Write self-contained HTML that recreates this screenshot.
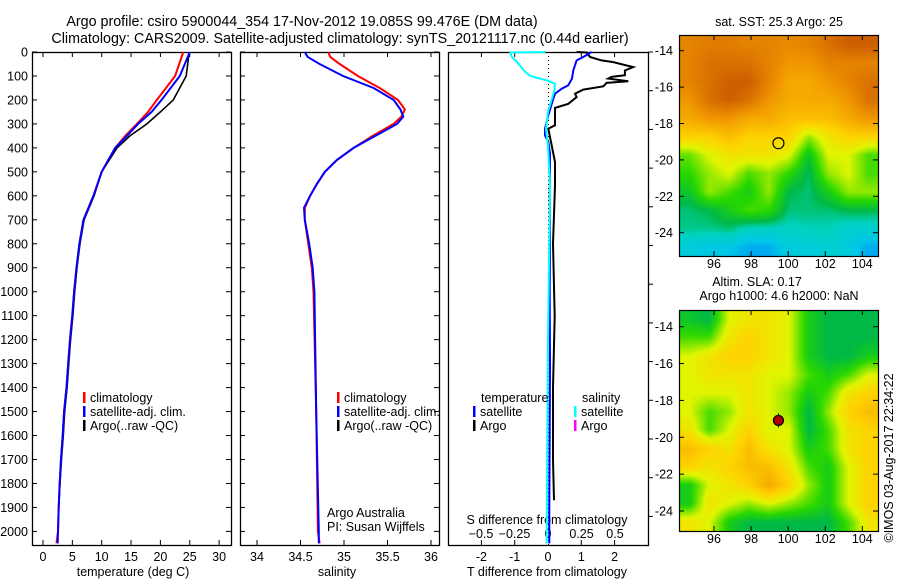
<!DOCTYPE html>
<html><head><meta charset="utf-8"><style>
html,body{margin:0;padding:0;background:#fff;}
#wrap{position:relative;width:900px;height:580px;overflow:hidden;font-family:"Liberation Sans",sans-serif;}
canvas{position:absolute;}
svg{position:absolute;left:0;top:0;}
text{font-family:"Liberation Sans",sans-serif;font-size:12.5px;fill:#000;}
</style></head><body>
<div id="wrap">
<canvas id="map1" width="199" height="221" style="left:679px;top:35px"></canvas>
<canvas id="map2" width="199" height="221" style="left:679px;top:310px"></canvas>
<svg id="svg" width="900" height="580"></svg>
</div>
<script>
// ---- data ----
const depthT = [0,100,200,250,300,350,400,500,600,700,800,900,1000,1100,1200,1300,1400,1500,1600,1700,1800,1900,2000,2050];
const tempClim = [23.9,22.5,19.4,17.9,16.0,14.0,12.3,10.0,8.6,6.9,6.2,5.7,5.3,5.0,4.6,4.3,4.0,3.6,3.35,3.07,2.84,2.67,2.55,2.3];
const tempSat = [25.0,23.3,20.2,18.5,16.2,14.3,12.3,10.0,8.6,6.9,6.2,5.7,5.3,5.0,4.6,4.3,4.0,3.6,3.35,3.07,2.84,2.67,2.55,2.5];
const depthArgo = [0,100,200,250,300,350,400,500,600,700,800,900,1000,1100,1200,1300,1400,1500,1600,1700,1800,1870];
const tempArgo = [24.9,24.4,22.2,20.0,17.7,14.8,12.6,10.0,8.7,7.0,6.3,5.8,5.4,5.1,4.7,4.4,4.1,3.7,3.45,3.15,2.9,2.75];
const depthS = [0,20,50,100,150,200,240,270,300,350,400,450,500,550,600,650,700,800,900,1000,1500,2000,2050];
const salClim = [34.82,34.84,34.95,35.16,35.41,35.62,35.70,35.66,35.57,35.33,35.11,34.92,34.78,34.69,34.61,34.55,34.55,34.59,34.63,34.65,34.68,34.70,34.72];
const salSat = [34.55,34.58,34.72,34.99,35.34,35.57,35.65,35.68,35.61,35.36,35.11,34.92,34.78,34.69,34.61,34.54,34.55,34.60,34.64,34.66,34.68,34.71,34.71];
const depthD = [0,21,35,77,111,139,153,174,216,264,320,348,375,424,600,800,1000,1300,1600,1900,2050];
const tDiffSat = [1.31,1.06,0.86,0.76,0.72,0.61,0.41,0.21,0.11,0.01,-0.09,-0.09,0.01,0.06,0.05,0.06,0.05,0.06,0.05,0.04,0.04];
const depthDA = [0,2,21,35,42,63,77,97,104,111,122,129,143,157,174,188,216,233,258,306,320,390,459,556,800,1100,1400,1700,1870];
const tDiffArgo = [0.86,1.16,1.26,1.61,1.96,2.56,2.31,2.31,1.91,1.81,2.41,1.76,1.66,1.06,0.81,0.86,0.61,0.21,0.21,0.21,0.01,0.11,0.21,0.21,0.15,0.2,0.15,0.15,0.18];
const depthDS = [0,2,21,42,77,97,104,118,132,153,174,250,320,390,560,800,1200,1600,2050];
const sDiffSat = [-0.02,-0.28,-0.27,-0.23,-0.18,-0.14,-0.11,-0.01,0.05,0.05,0.04,0.0,-0.015,0.0,0.015,0.01,0.0,-0.005,-0.01];
const depthTicks = [0,100,200,300,400,500,600,700,800,900,1000,1100,1200,1300,1400,1500,1600,1700,1800,1900,2000];
const tempTicks = [0,5,10,15,20,25,30];
const salTicks = [34,34.5,35,35.5,36];
const tdTicks = [-2,-1,0,1,2];
const sdTicks = [-0.5,-0.25,0,0.25,0.5];
const lonTicks = [96,98,100,102,104];
const latTicks = [-14,-16,-18,-20,-22,-24];
const argoLon = 99.476, argoLat = -19.085;
const sstGrid = [
[0.8,0.82,0.82,0.8,0.8,0.78,0.8,0.85,0.9,0.9],
[0.8,0.85,0.85,0.85,0.8,0.75,0.75,0.8,0.8,0.8],
[0.8,0.85,0.9,0.9,0.8,0.7,0.7,0.75,0.8,0.85],
[0.75,0.85,0.9,0.85,0.75,0.7,0.7,0.7,0.75,0.85],
[0.7,0.75,0.75,0.7,0.7,0.65,0.65,0.65,0.7,0.75],
[0.6,0.6,0.65,0.6,0.6,0.6,0.45,0.55,0.6,0.6],
[0.42,0.5,0.55,0.55,0.55,0.5,0.33,0.5,0.5,0.4],
[0.38,0.45,0.5,0.4,0.45,0.38,0.29,0.45,0.5,0.4],
[0.33,0.45,0.4,0.35,0.45,0.3,0.28,0.35,0.45,0.45],
[0.28,0.3,0.35,0.4,0.38,0.28,0.28,0.28,0.3,0.3],
[0.27,0.27,0.28,0.24,0.24,0.24,0.25,0.25,0.22,0.22],
[0.2,0.18,0.18,0.15,0.15,0.2,0.2,0.22,0.2,0.15]];
const slaGrid = [
[0.33,0.3,0.5,0.55,0.55,0.5,0.35,0.3,0.3,0.3],
[0.4,0.4,0.55,0.6,0.55,0.5,0.35,0.3,0.3,0.3],
[0.5,0.55,0.6,0.6,0.55,0.5,0.35,0.3,0.3,0.35],
[0.5,0.55,0.55,0.55,0.5,0.5,0.4,0.35,0.4,0.5],
[0.5,0.5,0.5,0.55,0.5,0.45,0.35,0.4,0.55,0.6],
[0.5,0.4,0.45,0.55,0.5,0.45,0.3,0.45,0.6,0.65],
[0.55,0.4,0.5,0.6,0.5,0.5,0.3,0.4,0.55,0.6],
[0.65,0.6,0.55,0.65,0.55,0.5,0.35,0.4,0.55,0.6],
[0.6,0.55,0.6,0.65,0.65,0.55,0.4,0.35,0.5,0.6],
[0.35,0.5,0.55,0.6,0.7,0.6,0.45,0.35,0.5,0.6],
[0.35,0.55,0.5,0.45,0.5,0.45,0.4,0.35,0.5,0.6],
[0.55,0.5,0.35,0.3,0.3,0.3,0.3,0.3,0.4,0.55]];

// ---- scales ----
const PT=52, PB=545;
const yD = d => PT + d*0.2397;
const xT = t => 43 + t*5.87;
const xS = s => 257 + (s-34)*87;
const xTD = t => 548 + t*33.3;
const xSD = s => 548 + s*134;
const mx = lon => 714 + (lon-96)*18.54;
const my1 = lat => 50.7 + (-14-lat)*18.2;
const my2 = lat => 326.7 + (-14-lat)*18.43;

const svg = document.getElementById('svg');
const NS='http://www.w3.org/2000/svg';
function el(tag, attrs, parent){const e=document.createElementNS(NS,tag);for(const k in attrs)e.setAttribute(k,attrs[k]);(parent||svg).appendChild(e);return e;}
function txt(x,y,s,anchor,parent){const t=el('text',{x:x,y:y,'text-anchor':anchor||'start'},parent);t.textContent=s;return t;}
function line(xs,ys,color,w,name){
  const pts=xs.map((x,i)=>x.toFixed(1)+','+ys[i].toFixed(1)).join(' ');
  const p=el('polyline',{points:pts,fill:'none',stroke:color,'stroke-width':w,'stroke-linejoin':'miter'});
  
  
  return p;
}

// titles
const t1=txt(302,26,'Argo profile: csiro 5900044_354 17-Nov-2012 19.085S 99.476E (DM data)','middle');
t1.setAttribute('style','font-size:14.3px');


const t2=txt(340,43,'Climatology: CARS2009. Satellite-adjusted climatology: synTS_20121117.nc (0.44d earlier)','middle');
t2.setAttribute('style','font-size:14.3px');



// panel frames
const panels=[[32,231,'temperature-panel'],[240,439,'salinity-panel'],[448,648,'difference-panel']];
panels.forEach(p=>{
  const r=el('rect',{x:p[0]+0.5,y:PT+0.5,width:p[1]-p[0],height:PB-PT,fill:'none',stroke:'#000','stroke-width':1.3});
  
  
});
// depth ticks
depthTicks.forEach(d=>{
  const y=yD(d);
  txt(28,y+4.5,String(d),'end');
  [[32,37],[226,231],[240,245],[434,439]].forEach(s=>el('line',{x1:s[0],x2:s[1],y1:y,y2:y,stroke:'#000'}));
});
// right ticks on difference panel
for(let y=52;y<545;y+=38.7) el('line',{x1:648,x2:653,y1:y,y2:y,stroke:'#000'});
// temp ticks
tempTicks.forEach(t=>{const x=xT(t);txt(x,561,String(t),'middle');el('line',{x1:x,x2:x,y1:PB,y2:PB-5,stroke:'#000'});el('line',{x1:x,x2:x,y1:PT,y2:PT+5,stroke:'#000'});});
salTicks.forEach(s=>{const x=xS(s);txt(x,561,String(s),'middle');el('line',{x1:x,x2:x,y1:PB,y2:PB-5,stroke:'#000'});el('line',{x1:x,x2:x,y1:PT,y2:PT+5,stroke:'#000'});});
tdTicks.forEach(t=>{const x=xTD(t);txt(x,561,String(t),'middle');if(t!==0){el('line',{x1:x,x2:x,y1:PB,y2:PB-5,stroke:'#000'});el('line',{x1:x,x2:x,y1:PT,y2:PT+5,stroke:'#000'});}});
sdTicks.forEach(s=>{txt(xSD(s),538,String(s).replace('-','\u2212'),'middle');});
txt(133,576,'temperature (deg C)','middle');
txt(337,576,'salinity','middle');
txt(547,576,'T difference from climatology','middle');
txt(547,524,'S difference from climatology','middle');
// zero dotted line
el('line',{x1:548.5,x2:548.5,y1:PT,y2:PB,stroke:'#000','stroke-dasharray':'1,3'});

// profiles
line(tempArgo.map(xT),depthArgo.map(yD),'#000',1.6,'argo-temperature-line');
line(tempClim.map(xT),depthT.map(yD),'#f00',2,'climatology-temperature-line');
line(tempSat.map(xT),depthT.map(yD),'#00f',2,'satellite-temperature-line');
line(salClim.map(xS),depthS.map(yD),'#f00',2,'climatology-salinity-line');
line(salSat.map(xS),depthS.map(yD),'#00f',2,'satellite-salinity-line');
line(tDiffArgo.map(xTD),depthDA.map(yD),'#000',2,'argo-t-diff-line');
line(tDiffSat.map(xTD),depthD.map(yD),'#00f',2,'satellite-t-diff-line');
line(sDiffSat.map(xSD),depthDS.map(yD),'#0ff',2,'satellite-s-diff-line');

// legends
function legend(x,y,color,label,name){
  const g=el('g',{});
  
  
  el('rect',{x:x,y:y-10,width:2.5,height:11,fill:color},g);
  txt(x+7,y,label,'start',g);
}
[[83,'temperature'],[337,'salinity']].forEach(l=>{
  legend(l[0],402,'#f00','climatology','legend-climatology-'+l[1]);
  legend(l[0],416,'#00f','satellite-adj. clim.','legend-satellite-'+l[1]);
  legend(l[0],430,'#000','Argo(..raw -QC)','legend-argo-'+l[1]);
});
txt(481,402,'temperature');
txt(582,402,'salinity');
legend(473,416,'#00f','satellite','legend-t-satellite');
legend(473,430,'#000','Argo','legend-t-argo');
legend(574,416,'#0ff','satellite','legend-s-satellite');
legend(574,430,'#f0f','Argo','legend-s-argo');
txt(327,517,'Argo Australia');
txt(327,531,'PI: Susan Wijffels');

// maps
function cmap(v){
  const stops=[[0.1,[0,120,255]],[0.18,[0,200,230]],[0.25,[0,210,190]],[0.3,[0,185,70]],[0.38,[40,215,0]],[0.5,[225,245,0]],[0.6,[255,210,0]],[0.75,[240,150,0]],[0.9,[205,95,0]]];
  if(v<=stops[0][0])return stops[0][1];
  for(let i=1;i<stops.length;i++){if(v<=stops[i][0]){const a=stops[i-1],b=stops[i],f=(v-a[0])/(b[0]-a[0]);return a[1].map((c,j)=>Math.round(c+(b[1][j]-c)*f));}}
  return stops[stops.length-1][1];
}
function drawMap(id,grid){
  const c=document.getElementById(id),ctx=c.getContext('2d');
  const rows=grid.length,cols=grid[0].length;
  const W=c.width,H=c.height,img=ctx.createImageData(W,H);
  for(let y=0;y<H;y++)for(let x=0;x<W;x++){
    const gx=Math.min(Math.max(x/W*cols-0.5,0),cols-1.001),gy=Math.min(Math.max(y/H*rows-0.5,0),rows-1.001);
    const i=Math.floor(gx),j=Math.floor(gy),fx=gx-i,fy=gy-j;
    const v=grid[j][i]*(1-fx)*(1-fy)+grid[j][i+1]*fx*(1-fy)+grid[j+1][i]*(1-fx)*fy+grid[j+1][i+1]*fx*fy;
    const col=cmap(v),k=(y*W+x)*4;img.data[k]=col[0];img.data[k+1]=col[1];img.data[k+2]=col[2];img.data[k+3]=255;
  }
  ctx.putImageData(img,0,0);
}
drawMap('map1',sstGrid);drawMap('map2',slaGrid);
[[35,my1,268,'sst-map-frame'],[310,my2,543,'sla-map-frame']].forEach(m=>{
  const r=el('rect',{x:679.5,y:m[0]+0.5,width:199,height:221,fill:'none',stroke:'#000','stroke-width':1.2});
  
  
  latTicks.forEach(l=>{const y=m[1](l);txt(673,y+4.5,String(l),'end');el('line',{x1:679,x2:684,y1:y,y2:y,stroke:'#000'});el('line',{x1:873,x2:878,y1:y,y2:y,stroke:'#000'});});
  lonTicks.forEach(l=>{const x=mx(l);txt(x,m[2],String(l),'middle');el('line',{x1:x,x2:x,y1:m[0]+221,y2:m[0]+216,stroke:'#000'});el('line',{x1:x,x2:x,y1:m[0],y2:m[0]+5,stroke:'#000'});});
});
const c1=el('circle',{cx:mx(argoLon),cy:my1(argoLat),r:5.5,fill:'none',stroke:'#000','stroke-width':1.2});


el('line',{x1:mx(argoLon),x2:mx(argoLon),y1:my2(argoLat)-7,y2:my2(argoLat)+7,stroke:'#000'});
const c2=el('circle',{cx:mx(argoLon),cy:my2(argoLat),r:5,fill:'#b00000',stroke:'#000','stroke-width':1.2});


txt(779,26,'sat. SST: 25.3 Argo: 25','middle');
txt(757,286,'Altim. SLA: 0.17','middle');
txt(779,300,'Argo h1000: 4.6 h2000: NaN','middle');
const rt=txt(0,0,'©IMOS 03-Aug-2017 22:34:22','middle');
rt.setAttribute('transform','translate(893,458) rotate(-90)');


</script>
</body></html>
